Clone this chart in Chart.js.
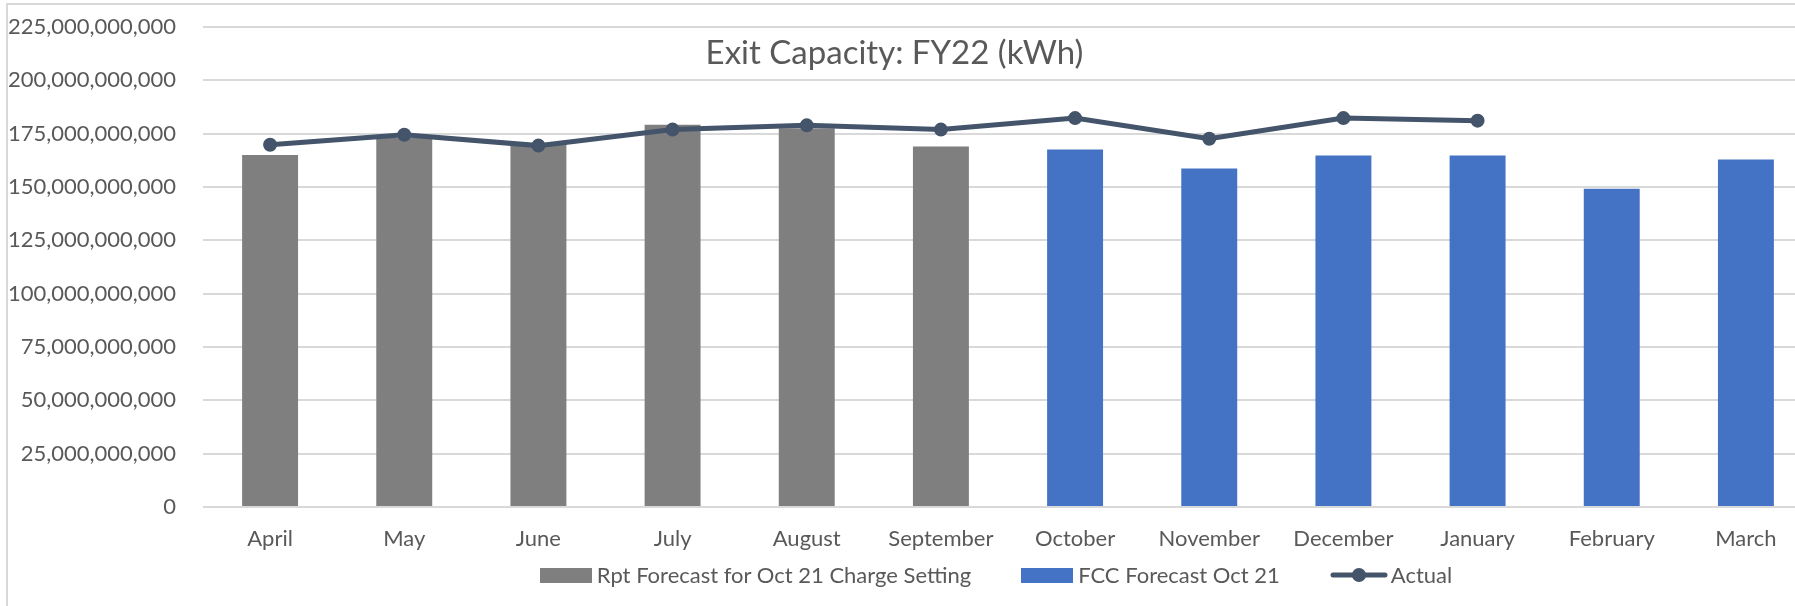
<!DOCTYPE html>
<html>
<head>
<meta charset="utf-8">
<script src="https://cdn.jsdelivr.net/npm/chart.js@4.4.1/dist/chart.umd.min.js"></script>
<style>
  html, body { margin: 0; padding: 0; background: #ffffff; width: 1795px; height: 606px; overflow: hidden; }
  #wrap { position: relative; width: 1795px; height: 606px; overflow: hidden; }
  #frame { position: absolute; left: 6px; top: 3px; width: 3000px; height: 2000px;
           border-top: 2px solid #d9d9d9; border-left: 2px solid #d9d9d9; }
  #chart { position: absolute; left: 0; top: 0; }
  #title { position: absolute; left: 0; top: 32px; width: 1789px; text-align: center;
           font-family: Lato, 'Open Sans', sans-serif; font-size: 33px; line-height: 1.2; color: #595959; }
  #legend { position: absolute; left: 0; top: 562px; width: 1992px; display: flex; justify-content: center;
            align-items: center; font-family: Lato, 'Open Sans', sans-serif; font-size: 22px; line-height: 1.2; color: #595959; }
  .item { display: flex; align-items: center; margin-right: 50px; white-space: nowrap; }
  .item:last-child { margin-right: 0; }
  .box { width: 52px; height: 15px; margin-right: 5px; }
  .mk { margin-right: 3px; display: block; }
</style>
</head>
<body>
<div id="wrap">
  <div id="frame"></div>
  <canvas id="chart" width="1830" height="606"></canvas>
  <div id="title">Exit Capacity: FY22 (kWh)</div>
  <div id="legend"></div>
</div>
<script>
const categories = ['April','May','June','July','August','September','October','November','December','January','February','March'];
const rptForecast = [165.0e9, 173.0e9, 170.0e9, 179.2e9, 177.5e9, 169.0e9, null, null, null, null, null, null];
const fccForecast = [null, null, null, null, null, null, 167.6e9, 158.7e9, 164.8e9, 164.8e9, 149.2e9, 162.9e9];
const actual = [169.8e9, 174.5e9, 169.4e9, 176.9e9, 178.9e9, 176.9e9, 182.3e9, 172.6e9, 182.3e9, 181.1e9, null, null];
const seriesNames = ['Rpt Forecast for Oct 21 Charge Setting', 'FCC Forecast Oct 21', 'Actual'];
const yTickMax = 225e9;
const yTickStep = 25e9;

const FONT = "Lato, 'Open Sans', sans-serif";
const TEXT = '#595959';
const GRID = '#d9d9d9';

const chart = new Chart(document.getElementById('chart'), {
  data: {
    labels: categories,
    datasets: [
      { type: 'bar', label: seriesNames[0], data: rptForecast, backgroundColor: '#7F7F7F',
        skipNull: true, barPercentage: 0.417, categoryPercentage: 1.0, order: 2 },
      { type: 'bar', label: seriesNames[1], data: fccForecast, backgroundColor: '#4472C4',
        skipNull: true, barPercentage: 0.417, categoryPercentage: 1.0, order: 2 },
      { type: 'line', label: seriesNames[2], data: actual, borderColor: '#44546A', backgroundColor: '#44546A',
        borderWidth: 5, pointRadius: 6, pointBorderWidth: 2, pointBackgroundColor: '#44546A',
        pointBorderColor: '#44546A', tension: 0, spanGaps: false, fill: false, order: 1 }
    ]
  },
  options: {
    responsive: false,
    animation: false,
    layout: { padding: { left: 0, right: 17, top: 27, bottom: 0 } },
    plugins: { legend: { display: false }, title: { display: false }, tooltip: { enabled: false } },
    scales: {
      x: {
        grid: { display: false, drawTicks: false },
        border: { display: false },
        ticks: { font: { family: FONT, size: 22 }, color: TEXT, padding: 19, maxRotation: 0, autoSkip: false },
        afterFit: (s) => { s.height = 99; }
      },
      y: {
        min: 0, max: yTickMax,
        grid: { color: GRID, lineWidth: 2, drawTicks: false },
        border: { display: false },
        ticks: { stepSize: yTickStep, font: { family: FONT, size: 22 }, color: TEXT, padding: 27,
                 callback: (v) => Number(v).toLocaleString('en-US') },
        afterFit: (s) => { s.width = 203; s.paddingTop = 0; s.paddingBottom = 0; }
      }
    }
  }
});

// HTML legend built from the chart's datasets
const legend = document.getElementById('legend');
chart.data.datasets.forEach((ds) => {
  const item = document.createElement('div');
  item.className = 'item';
  if (ds.type === 'bar') {
    const b = document.createElement('span');
    b.className = 'box';
    b.style.background = ds.backgroundColor;
    item.appendChild(b);
  } else {
    const svgNS = 'http://www.w3.org/2000/svg';
    const svg = document.createElementNS(svgNS, 'svg');
    svg.setAttribute('width', '58'); svg.setAttribute('height', '16');
    svg.setAttribute('class', 'mk');
    const ln = document.createElementNS(svgNS, 'line');
    ln.setAttribute('x1', '3'); ln.setAttribute('y1', '8'); ln.setAttribute('x2', '55'); ln.setAttribute('y2', '8');
    ln.setAttribute('stroke', ds.borderColor); ln.setAttribute('stroke-width', '5'); ln.setAttribute('stroke-linecap', 'round');
    const c = document.createElementNS(svgNS, 'circle');
    c.setAttribute('cx', '29'); c.setAttribute('cy', '8'); c.setAttribute('r', '7'); c.setAttribute('fill', ds.borderColor);
    svg.appendChild(ln); svg.appendChild(c);
    item.appendChild(svg);
  }
  const t = document.createElement('span');
  t.textContent = ds.label;
  item.appendChild(t);
  legend.appendChild(item);
});
</script>
</body>
</html>
